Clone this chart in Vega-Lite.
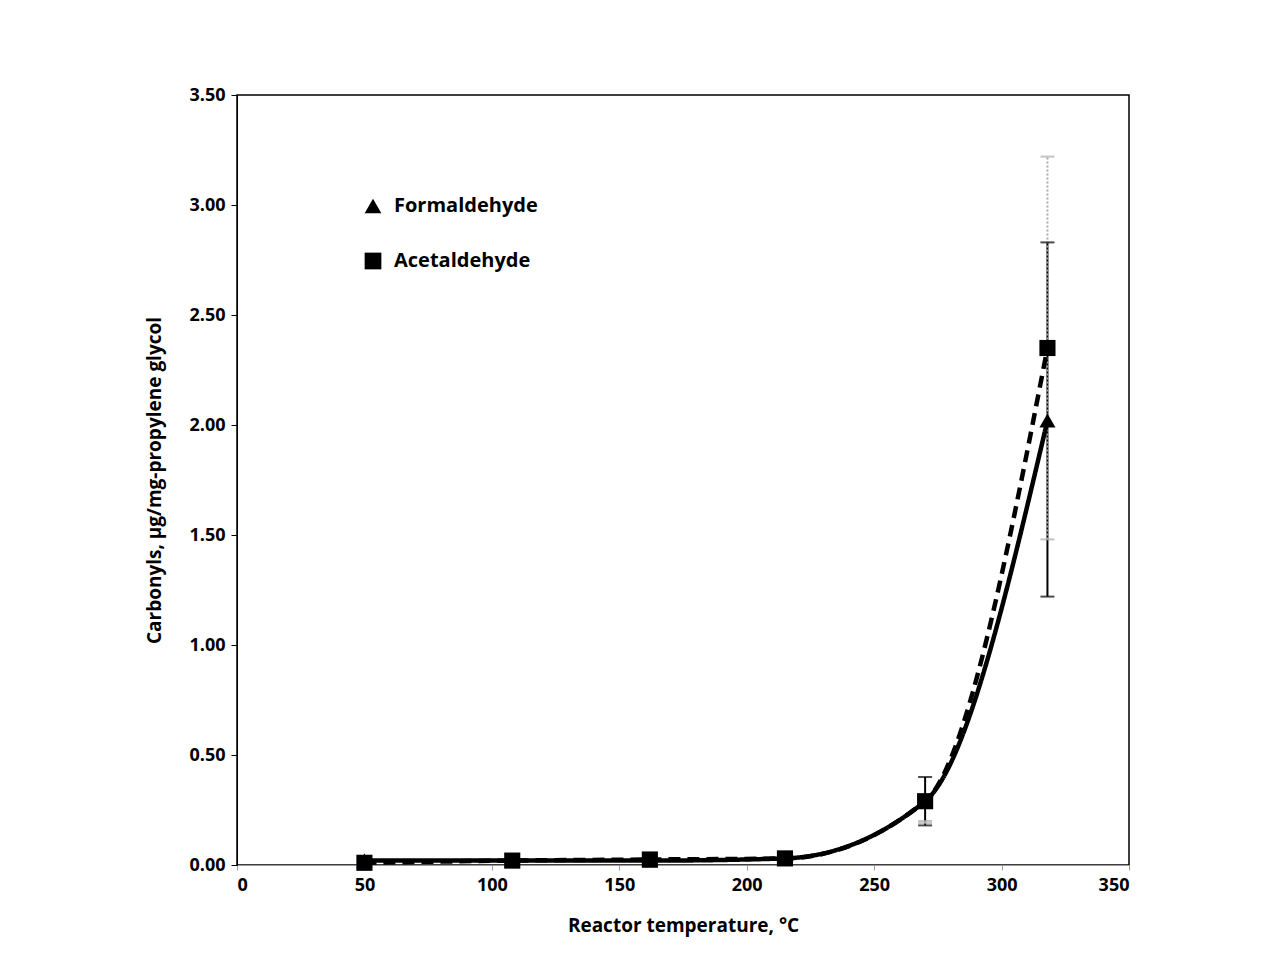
{
  "$schema": "https://vega.github.io/schema/vega-lite/v6.json",
  "width": 892,
  "height": 770,
  "autosize": {"type": "none"},
  "padding": {"left": 237, "top": 95, "right": 135, "bottom": 114},
  "background": "white",
  "datasets": {
    "pts": [
      {"series": "Formaldehyde", "temp": 50, "value": 0.02},
      {"series": "Formaldehyde", "temp": 108, "value": 0.02},
      {"series": "Formaldehyde", "temp": 162, "value": 0.02},
      {"series": "Formaldehyde", "temp": 215, "value": 0.03},
      {"series": "Formaldehyde", "temp": 270, "value": 0.29},
      {"series": "Formaldehyde", "temp": 318, "value": 2.02},
      {"series": "Acetaldehyde", "temp": 50, "value": 0.01},
      {"series": "Acetaldehyde", "temp": 108, "value": 0.02},
      {"series": "Acetaldehyde", "temp": 162, "value": 0.025},
      {"series": "Acetaldehyde", "temp": 215, "value": 0.03},
      {"series": "Acetaldehyde", "temp": 270, "value": 0.29},
      {"series": "Acetaldehyde", "temp": 318, "value": 2.35}
    ],
    "err": [
      {"series": "Formaldehyde", "temp": 270, "lo": 0.18, "hi": 0.40},
      {"series": "Formaldehyde", "temp": 318, "lo": 1.22, "hi": 2.83},
      {"series": "Acetaldehyde", "temp": 270, "lo": 0.19, "hi": 0.20},
      {"series": "Acetaldehyde", "temp": 318, "lo": 1.48, "hi": 3.22}
    ]
  },
  "encoding": {
    "x": {"field": "temp", "type": "quantitative", "scale": {"domain": [0, 350]},
      "axis": {"values": [0, 50, 100, 150, 200, 250, 300, 350], "title": "Reactor temperature, °C", "titlePadding": 22, "domainColor": "#999", "tickColor": "#999"}},
    "y": {"type": "quantitative", "scale": {"domain": [0, 3.5]}}
  },
  "layer": [
    {
      "data": {"name": "err"},
      "transform": [{"filter": "datum.series == 'Formaldehyde'"}],
      "mark": {"type": "rule", "strokeWidth": 2, "color": "black"},
      "encoding": {
        "y": {"field": "lo", "type": "quantitative", "scale": {"domain": [0, 3.5]},
          "axis": {"values": [0, 0.5, 1, 1.5, 2, 2.5, 3, 3.5], "format": ".2f", "title": "Carbonyls, µg/mg-propylene glycol", "titlePadding": 24, "tickSize": 6}},
        "y2": {"field": "hi"}
      }
    },
    {
      "data": {"name": "err"},
      "transform": [{"filter": "datum.series == 'Acetaldehyde'"}],
      "mark": {"type": "rule", "strokeWidth": 2, "color": "#aaa", "strokeDash": [2, 2]},
      "encoding": {
        "y": {"field": "lo", "type": "quantitative"},
        "y2": {"field": "hi"}
      }
    },
    {
      "data": {"name": "err"},
      "transform": [{"filter": "datum.series == 'Formaldehyde'"}],
      "mark": {"type": "tick", "orient": "horizontal", "size": 14, "thickness": 2, "color": "black"},
      "encoding": {"y": {"field": "lo", "type": "quantitative"}}
    },
    {
      "data": {"name": "err"},
      "transform": [{"filter": "datum.series == 'Formaldehyde'"}],
      "mark": {"type": "tick", "orient": "horizontal", "size": 14, "thickness": 2, "color": "black"},
      "encoding": {"y": {"field": "hi", "type": "quantitative"}}
    },
    {
      "data": {"name": "err"},
      "transform": [{"filter": "datum.series == 'Acetaldehyde'"}],
      "mark": {"type": "tick", "orient": "horizontal", "size": 14, "thickness": 2, "color": "#aaa"},
      "encoding": {"y": {"field": "lo", "type": "quantitative"}}
    },
    {
      "data": {"name": "err"},
      "transform": [{"filter": "datum.series == 'Acetaldehyde'"}],
      "mark": {"type": "tick", "orient": "horizontal", "size": 14, "thickness": 2, "color": "#aaa"},
      "encoding": {"y": {"field": "hi", "type": "quantitative"}}
    },
    {
      "data": {"name": "pts"},
      "mark": {"type": "line", "interpolate": "monotone", "color": "black", "strokeWidth": 4.5},
      "encoding": {
        "y": {"field": "value", "type": "quantitative"},
        "strokeDash": {"field": "series", "type": "nominal", "scale": {"domain": ["Formaldehyde", "Acetaldehyde"], "range": [[1, 0], [12, 7]]},
          "legend": {"title": null, "orient": "none", "legendX": 125, "legendY": 100, "symbolSize": 280, "symbolStrokeWidth": 4.5, "symbolStrokeColor": "black", "symbolType": "stroke", "labelFontSize": 20, "labelFontWeight": "bold", "labelColor": "black", "rowPadding": 20, "labelOffset": 10}}
      }
    },
    {
      "data": {"name": "pts"},
      "mark": {"type": "point", "filled": true, "color": "black", "opacity": 1},
      "encoding": {
        "y": {"field": "value", "type": "quantitative"},
        "shape": {"field": "series", "type": "nominal", "scale": {"domain": ["Formaldehyde", "Acetaldehyde"], "range": ["triangle-up", "square"]},
          "legend": {"title": null, "orient": "none", "legendX": 125, "legendY": 100, "symbolSize": 280, "symbolStrokeWidth": 4.5, "symbolStrokeColor": "black", "symbolType": "stroke", "labelFontSize": 20, "labelFontWeight": "bold", "labelColor": "black", "rowPadding": 20, "labelOffset": 10}},
        "size": {"value": 260}
      }
    }
  ],
  "config": {
    "font": "Open Sans",
    "view": {"stroke": "black", "strokeWidth": 1.5},
    "axis": {"grid": false, "labelFontSize": 18, "labelFontWeight": "bold", "labelColor": "black", "titleFontSize": 19, "titleFontWeight": "bold", "titleColor": "black", "domainColor": "black", "tickColor": "black", "labelPadding": 6}
  }
}
